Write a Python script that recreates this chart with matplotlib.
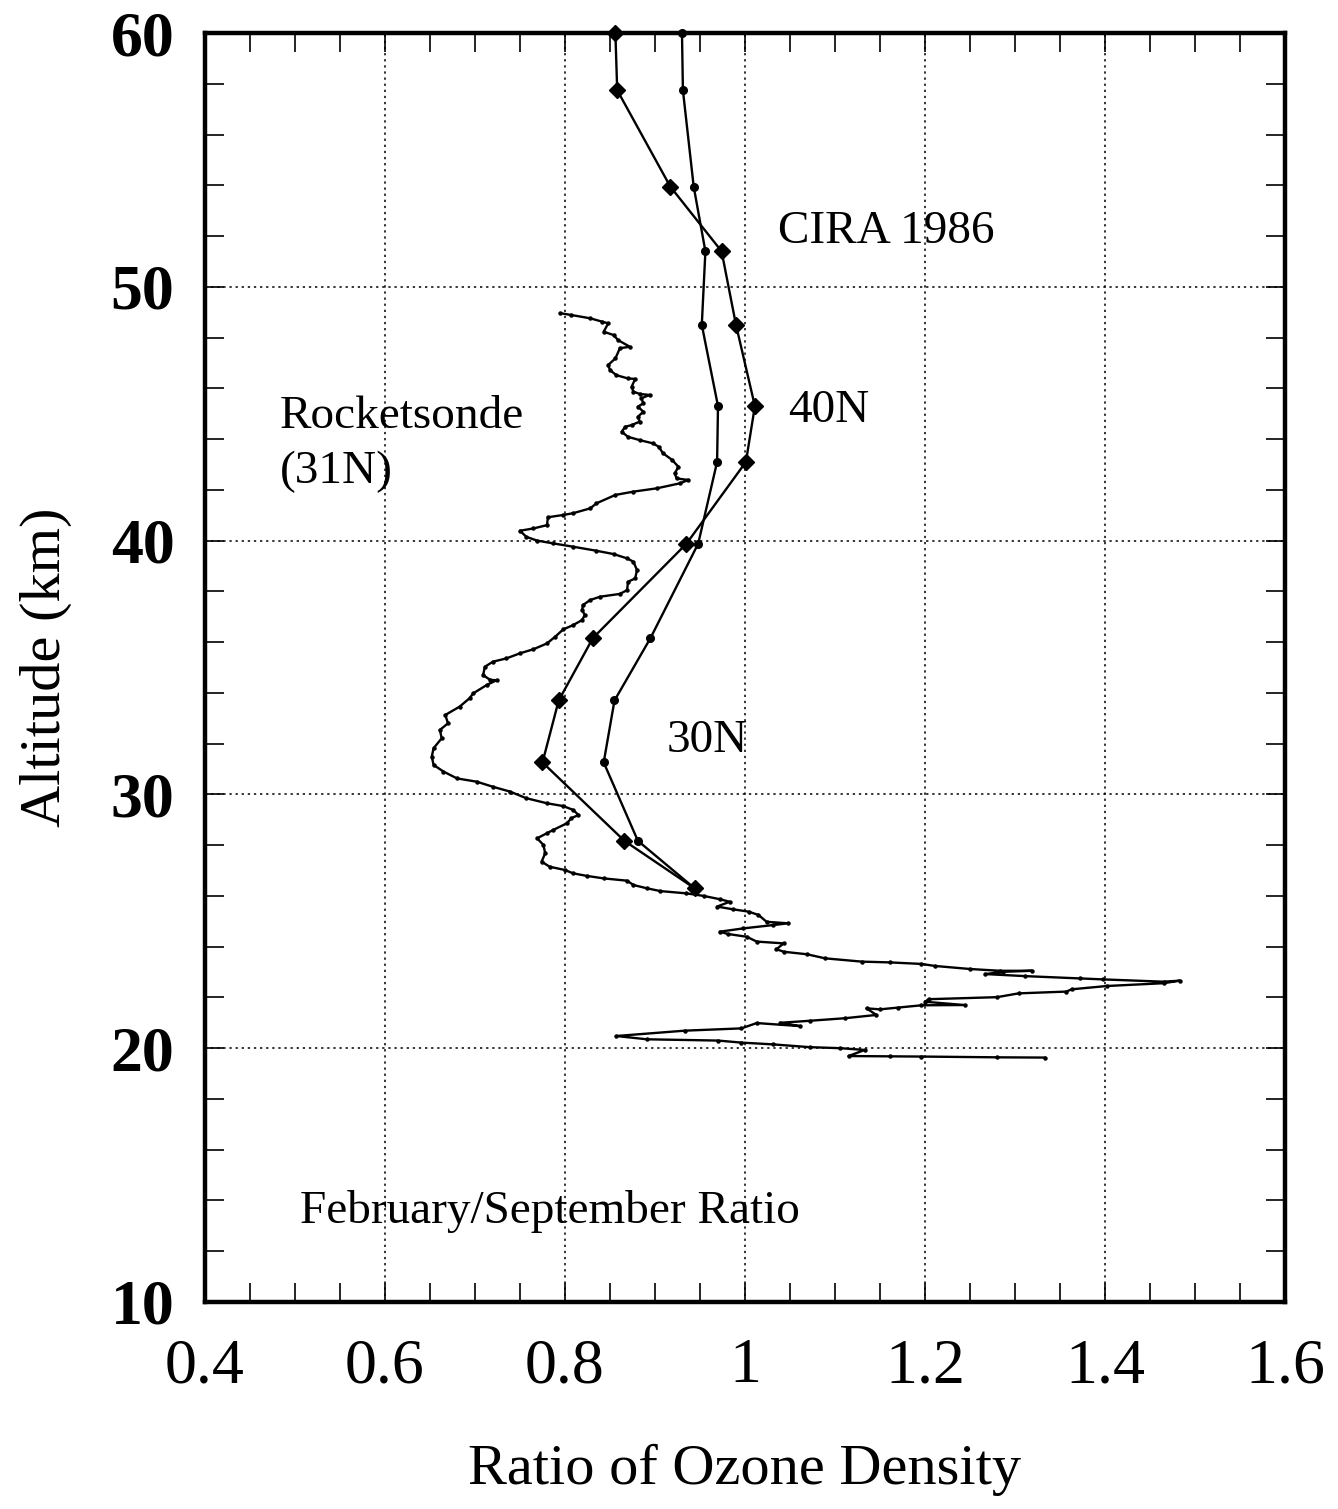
import matplotlib
matplotlib.use("Agg")
import matplotlib.pyplot as plt
from matplotlib.ticker import MultipleLocator, FixedLocator

plt.rcParams['font.family'] = ['Liberation Serif', 'DejaVu Serif']

# CIRA 1986 profiles (February/September ratio)
cira_alt = [60.0, 57.75, 53.95, 51.4, 48.5, 45.3, 43.1, 39.88, 36.16, 33.7, 31.26, 28.17, 26.3]
cira_40n = [0.856, 0.858, 0.917, 0.974, 0.990, 1.011, 1.001, 0.935, 0.831, 0.793, 0.775, 0.866, 0.944]
cira_30n = [0.930, 0.931, 0.943, 0.956, 0.952, 0.970, 0.969, 0.948, 0.895, 0.855, 0.843, 0.881, 0.944]

# Rocketsonde (31N) ratio profile
rocket_ratio = [
    0.795, 0.807, 0.828, 0.841, 0.848, 0.843, 0.854, 0.859, 0.872, 0.861,
    0.856, 0.848, 0.850, 0.857, 0.870, 0.878, 0.874, 0.876, 0.883, 0.894,
    0.885, 0.887, 0.881, 0.887, 0.881, 0.883, 0.874, 0.867, 0.863, 0.870,
    0.883, 0.898, 0.904, 0.909, 0.919, 0.926, 0.922, 0.924, 0.937, 0.928,
    0.902, 0.876, 0.856, 0.835, 0.828, 0.809, 0.798, 0.781, 0.780, 0.765,
    0.750, 0.757, 0.769, 0.787, 0.809, 0.835, 0.854, 0.869, 0.876, 0.880,
    0.878, 0.870, 0.869, 0.861, 0.839, 0.828, 0.820, 0.819, 0.822, 0.819,
    0.809, 0.798, 0.789, 0.780, 0.765, 0.750, 0.735, 0.720, 0.711, 0.709,
    0.717, 0.724, 0.713, 0.698, 0.694, 0.683, 0.667, 0.670, 0.661, 0.663,
    0.654, 0.652, 0.654, 0.665, 0.680, 0.702, 0.720, 0.739, 0.757, 0.780,
    0.798, 0.809, 0.815, 0.807, 0.802, 0.787, 0.780, 0.769, 0.776, 0.778,
    0.774, 0.783, 0.800, 0.809, 0.824, 0.843, 0.869, 0.876, 0.891, 0.906,
    0.935, 0.954, 0.972, 0.983, 0.969, 0.987, 1.004, 1.015, 1.024, 1.048,
    1.031, 0.998, 0.972, 0.981, 1.002, 1.013, 1.043, 1.035, 1.043, 1.069,
    1.089, 1.130, 1.161, 1.196, 1.211, 1.250, 1.283, 1.319, 1.287, 1.267,
    1.311, 1.372, 1.398, 1.465, 1.483, 1.465, 1.402, 1.363, 1.357, 1.304,
    1.280, 1.204, 1.200, 1.244, 1.196, 1.170, 1.150, 1.135, 1.146, 1.111,
    1.072, 1.039, 1.061, 1.013, 0.996, 0.933, 0.857, 0.891, 0.970, 0.996,
    1.031, 1.072, 1.106, 1.133, 1.115, 1.161, 1.196, 1.280, 1.333,
]
rocket_alt = [
    48.96, 48.89, 48.76, 48.63, 48.56, 48.23, 48.10, 47.90, 47.64, 47.58,
    47.18, 46.92, 46.72, 46.52, 46.39, 46.37, 46.06, 45.87, 45.78, 45.74,
    45.61, 45.41, 45.28, 45.08, 44.88, 44.69, 44.55, 44.49, 44.29, 44.09,
    43.96, 43.83, 43.70, 43.44, 43.18, 42.91, 42.65, 42.45, 42.39, 42.26,
    42.06, 41.93, 41.80, 41.47, 41.27, 41.08, 41.01, 40.92, 40.61, 40.48,
    40.39, 40.15, 40.00, 39.89, 39.76, 39.60, 39.47, 39.30, 39.17, 38.84,
    38.51, 38.38, 38.05, 37.90, 37.79, 37.66, 37.46, 37.27, 37.07, 36.87,
    36.67, 36.50, 36.21, 35.95, 35.72, 35.56, 35.36, 35.23, 35.03, 34.70,
    34.51, 34.50, 34.31, 33.98, 33.79, 33.46, 33.13, 32.80, 32.54, 32.21,
    31.82, 31.49, 31.16, 30.90, 30.63, 30.50, 30.30, 30.11, 29.85, 29.65,
    29.54, 29.39, 29.19, 29.06, 28.86, 28.60, 28.47, 28.27, 28.01, 27.68,
    27.35, 27.15, 27.02, 26.89, 26.79, 26.69, 26.60, 26.43, 26.30, 26.19,
    26.10, 26.00, 25.87, 25.77, 25.58, 25.47, 25.38, 25.25, 24.98, 24.92,
    24.85, 24.72, 24.59, 24.50, 24.39, 24.20, 24.13, 23.90, 23.80, 23.70,
    23.54, 23.41, 23.38, 23.32, 23.24, 23.12, 23.05, 23.05, 23.01, 22.92,
    22.84, 22.75, 22.71, 22.62, 22.66, 22.56, 22.45, 22.32, 22.23, 22.16,
    22.01, 21.93, 21.83, 21.70, 21.69, 21.60, 21.53, 21.57, 21.31, 21.18,
    21.08, 21.00, 20.87, 20.99, 20.78, 20.69, 20.48, 20.35, 20.30, 20.22,
    20.15, 20.04, 20.00, 19.93, 19.69, 19.68, 19.67, 19.64, 19.63,
]

x_ticks = [0.4, 0.6, 0.8, 1.0, 1.2, 1.4, 1.6]
x_tick_labels = ["0.4", "0.6", "0.8", "1", "1.2", "1.4", "1.6"]
y_ticks = [10, 20, 30, 40, 50, 60]

fig = plt.figure(figsize=(13.38, 15.09), dpi=100)
ax = fig.add_axes([0.1532, 0.1372, 0.8072, 0.8409])

ax.plot(rocket_ratio, rocket_alt, color='black', lw=1.7, marker='o',
        markersize=2.2, zorder=3)
ax.plot(cira_40n, cira_alt, color='black', lw=1.7, marker='D',
        markersize=8.5, zorder=4, clip_on=False)
ax.plot(cira_30n, cira_alt, color='black', lw=1.7, marker='o',
        markersize=5.5, zorder=4, clip_on=False)

ax.set_xlim(0.4, 1.6)
ax.set_ylim(10, 60)
ax.xaxis.set_major_locator(FixedLocator(x_ticks))
ax.xaxis.set_minor_locator(MultipleLocator(0.05))
ax.yaxis.set_major_locator(FixedLocator(y_ticks))
ax.yaxis.set_minor_locator(MultipleLocator(2))
ax.set_xticklabels(x_tick_labels)

ax.tick_params(which='both', direction='in', top=True, right=True,
               length=14, width=1.2)
ax.tick_params(axis='x', which='major', labelsize=46, pad=26)
ax.tick_params(axis='y', which='major', labelsize=46, pad=22)
for lab in ax.get_yticklabels():
    lab.set_fontweight('bold')

ax.grid(True, which='major', color='black', linestyle=(0, (1.5, 2.5)), lw=1.1)

for sp in ax.spines.values():
    sp.set_linewidth(3.2)

ax.set_xlabel("Ratio of Ozone Density", fontsize=42, labelpad=34)
ax.set_ylabel("Altitude (km)", fontsize=42, labelpad=28)

tfs = 34
ax.text(1.037, 52.16, "CIRA 1986", fontsize=tfs, va='center', ha='left')
ax.text(1.048, 45.1, "40N", fontsize=tfs, va='center', ha='left')
ax.text(0.913, 32.1, "30N", fontsize=tfs, va='center', ha='left')
ax.text(0.483, 44.9, "Rocketsonde", fontsize=tfs, va='center', ha='left')
ax.text(0.483, 42.7, "(31N)", fontsize=tfs, va='center', ha='left')
ax.text(0.506, 13.55, "February/September Ratio", fontsize=tfs, va='center', ha='left')

fig.savefig("out.png", dpi=100)
